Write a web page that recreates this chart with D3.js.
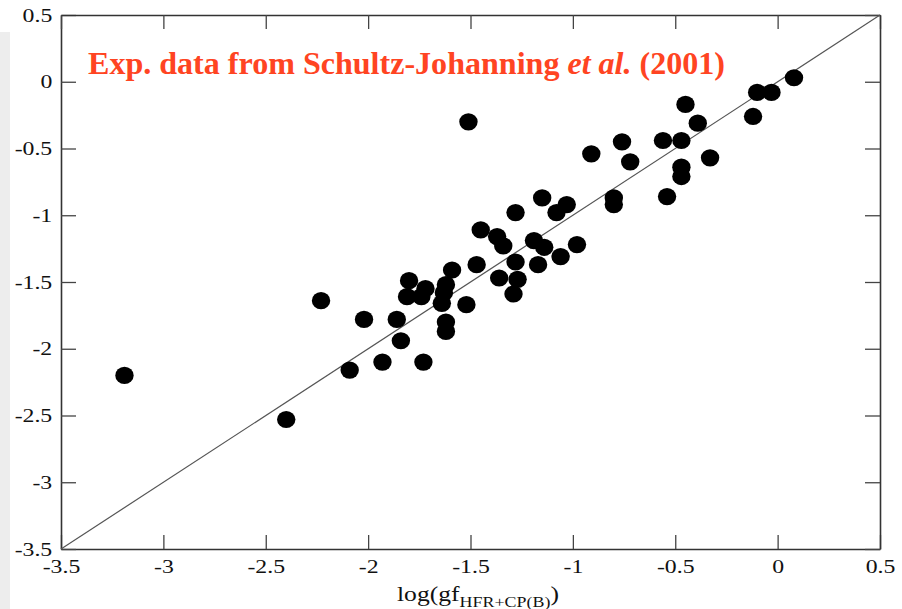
<!DOCTYPE html>
<html>
<head>
<meta charset="utf-8">
<script src="https://cdn.jsdelivr.net/npm/d3@7"></script>
<style>
  body { margin: 0; background: #fff; }
  svg { display: block; }
</style>
</head>
<body>
<div id="chart"></div>
<script>
// log(gf) values
var xVals = [-3.19, -2.40, -2.23, -2.09, -2.02, -1.93, -1.86, -1.84, -1.80, -1.81,
  -1.73, -1.72, -1.74, -1.64, -1.62, -1.63, -1.62, -1.62, -1.59, -1.52,
  -1.47, -1.51, -1.45, -1.37, -1.34, -1.36, -1.28, -1.28, -1.27, -1.29,
  -1.19, -1.17, -1.15, -1.14, -1.08, -1.06, -1.03, -0.98, -0.91, -0.80,
  -0.80, -0.76, -0.72, -0.56, -0.54, -0.47, -0.47, -0.47, -0.45, -0.39,
  -0.33, -0.12, -0.10, -0.03, 0.08];
var yVals = [-2.20, -2.53, -1.64, -2.16, -1.78, -2.10, -1.78, -1.94, -1.49, -1.61,
  -2.10, -1.55, -1.61, -1.66, -1.52, -1.58, -1.80, -1.87, -1.41, -1.67,
  -1.37, -0.30, -1.11, -1.16, -1.23, -1.47, -0.98, -1.35, -1.48, -1.59,
  -1.19, -1.37, -0.87, -1.24, -0.98, -1.31, -0.92, -1.22, -0.54, -0.87,
  -0.92, -0.45, -0.60, -0.44, -0.86, -0.44, -0.64, -0.71, -0.17, -0.31,
  -0.57, -0.26, -0.08, -0.08, 0.03];
var xTicks = [-3.5, -3, -2.5, -2, -1.5, -1, -0.5, 0, 0.5];
var yTicks = [-3.5, -3, -2.5, -2, -1.5, -1, -0.5, 0, 0.5];
var titleText = 'Exp. data from Schultz-Johanning ';
var titleItalic = 'et al.';
var titleEnd = ' (2001)';

(function(d3) {
  'use strict';
  var width = 902;
  var height = 609;
  var margin = { top: 15, right: 22, bottom: 60, left: 61 };
  var plotW = width - margin.left - margin.right;
  var plotH = height - margin.top - margin.bottom;
  var serif = '"Liberation Serif", "Times New Roman", serif';
  var stretch = 1.25; // the original figure text is wider than it is tall

  var svg = d3.select('#chart')
    .append('svg')
    .attr('width', width)
    .attr('height', height);

  // light grey strip at the left edge of the slide
  svg.append('rect')
    .attr('x', 0)
    .attr('y', 32)
    .attr('width', 10)
    .attr('height', height - 32)
    .attr('fill', '#ededed');

  var g = svg.append('g')
    .attr('transform', 'translate(' + margin.left + ',' + margin.top + ')');

  var x = d3.scaleLinear().domain([-3.5, 0.5]).range([0, plotW]);
  var y = d3.scaleLinear().domain([-3.5, 0.5]).range([plotH, 0]);

  var fmt = function(d) { return String(d); };

  var bottom = g.append('g')
    .attr('transform', 'translate(0,' + plotH + ')')
    .call(d3.axisBottom(x).tickValues(xTicks).tickFormat(fmt)
      .tickSizeInner(-14).tickSizeOuter(0).tickPadding(11));
  var left = g.append('g')
    .call(d3.axisLeft(y).tickValues(yTicks).tickFormat(fmt)
      .tickSizeInner(-15).tickSizeOuter(0).tickPadding(7));
  var top = g.append('g')
    .call(d3.axisTop(x).tickValues(xTicks).tickFormat('')
      .tickSizeInner(-14).tickSizeOuter(0));
  var right = g.append('g')
    .attr('transform', 'translate(' + plotW + ',0)')
    .call(d3.axisRight(y).tickValues(yTicks).tickFormat('')
      .tickSizeInner(-15).tickSizeOuter(0));

  [bottom, left, top, right].forEach(function(a) {
    a.selectAll('path.domain').attr('stroke', '#333').attr('stroke-width', 1.6);
    a.selectAll('.tick line').attr('stroke', '#444').attr('stroke-width', 1.3);
    a.selectAll('.tick text')
      .attr('fill', '#111')
      .attr('transform', 'scale(' + stretch + ',1)')
      .style('font-family', serif)
      .style('font-size', '19px');
  });

  // 1:1 line
  g.append('line')
    .attr('x1', x(-3.5))
    .attr('y1', y(-3.5))
    .attr('x2', x(0.5))
    .attr('y2', y(0.5))
    .attr('stroke', '#555')
    .attr('stroke-width', 1.2);

  var pts = xVals.map(function(d, i) { return { x: d, y: yVals[i] }; });
  g.selectAll('ellipse.pt')
    .data(pts)
    .enter()
    .append('ellipse')
    .attr('class', 'pt')
    .attr('cx', function(d) { return x(d.x); })
    .attr('cy', function(d) { return y(d.y); })
    .attr('rx', 9.2)
    .attr('ry', 8.6)
    .attr('fill', '#000');

  // title inside the plot
  var title = svg.append('text')
    .attr('x', 88)
    .attr('y', 74)
    .attr('fill', '#ff4422')
    .style('font-family', serif)
    .style('font-size', '32px')
    .style('font-weight', 'bold');
  title.append('tspan').text(titleText);
  title.append('tspan').style('font-style', 'italic').text(titleItalic);
  title.append('tspan').text(titleEnd);
  title.attr('textLength', 637).attr('lengthAdjust', 'spacingAndGlyphs');

  // x axis label with subscript
  var xl = svg.append('text')
    .attr('x', 0)
    .attr('y', 0)
    .attr('fill', '#111')
    .style('font-family', serif)
    .style('font-size', '20px');
  xl.append('tspan').text('log(gf');
  xl.append('tspan').attr('dy', 6).style('font-size', '14px').text('HFR+CP(B)');
  xl.append('tspan').attr('dy', -6).text(')');
  var xlLen = xl.node().getComputedTextLength();
  xl.attr('transform', 'translate(397,601) scale(' + (162 / xlLen) + ',1)');
})(window.d3);
</script>
</body>
</html>
